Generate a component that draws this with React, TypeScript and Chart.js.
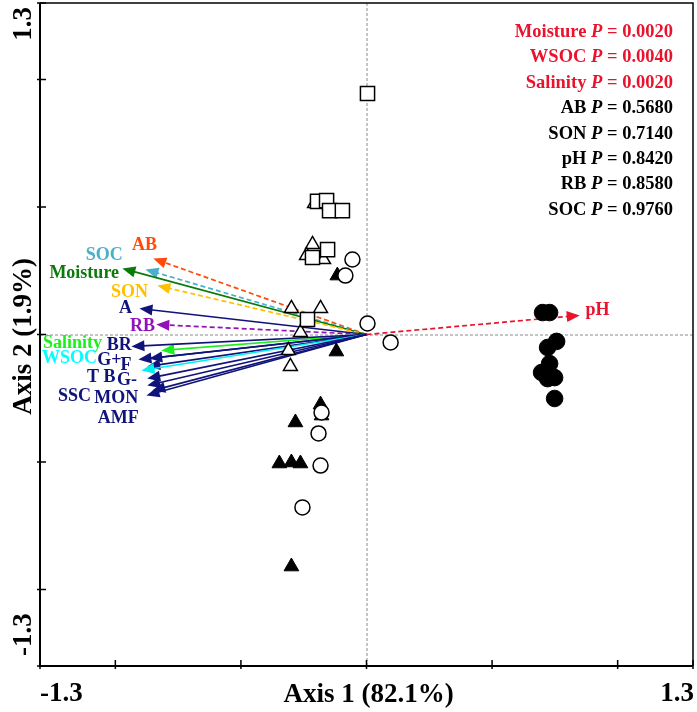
import { useEffect, useRef } from "react";
import { Chart, registerables } from "chart.js";

Chart.register(...registerables);

// ---- axes ----
const axisMin = -1.3;
const axisMax = 1.3;
const xTickValues = [-1.3, -1.0, -0.5, 0, 0.5, 1.0, 1.3];
const yTickValues = [-1.3, -1.0, -0.5, 0, 0.5, 1.0, 1.3];
const xTickLabels = ["-1.3", "1.3"];
const yTickLabels = ["-1.3", "1.3"];
const xAxisTitle = "Axis 1 (82.1%)";
const yAxisTitle = "Axis 2 (1.9%)";

// ---- sample scores ----
const openSquareX = [0.004, -0.195, -0.159, -0.147, -0.096, -0.215, -0.155, -0.235];
const openSquareY = [0.945, 0.522, 0.525, 0.486, 0.486, 0.302, 0.333, 0.059];

const openTriangleX = [-0.207, -0.215, -0.239, -0.171, -0.299, -0.183, -0.263, -0.311, -0.303];
const openTriangleY = [0.514, 0.353, 0.31, 0.294, 0.102, 0.102, 0.008, -0.063, -0.125];

const filledTriangleX = [-0.116, -0.12, -0.183, -0.179, -0.283, -0.347, -0.299, -0.263, -0.299];
const filledTriangleY = [0.231, -0.067, -0.275, -0.318, -0.345, -0.506, -0.502, -0.506, -0.91];

const openCircleX = [-0.056, -0.084, 0.004, 0.096, -0.179, -0.191, -0.183, -0.255];
const openCircleY = [0.294, 0.231, 0.043, -0.031, -0.306, -0.388, -0.514, -0.678];

const filledCircleX = [0.701, 0.729, 0.757, 0.721, 0.729, 0.697, 0.749, 0.721, 0.749];
const filledCircleY = [0.086, 0.086, -0.027, -0.051, -0.114, -0.149, -0.169, -0.173, -0.251];

// ---- environmental vectors ----
const vectorNames = ["AB", "SOC", "Moisture", "SON", "A", "RB", "Salinity", "BR", "G+", "F", "T B", "WSOC", "G-", "SSC", "AMF", "MON", "pH"];
const vectorX = [-0.849, -0.88, -0.972, -0.833, -0.904, -0.837, -0.817, -0.936, -0.908, -0.865, -0.873, -0.896, -0.873, -0.873, -0.853, -0.876, 0.849];
const vectorY = [0.298, 0.255, 0.259, 0.192, 0.102, 0.039, -0.063, -0.047, -0.098, -0.094, -0.125, -0.141, -0.173, -0.2, -0.22, -0.239, 0.075];
const vectorLabelX = [-0.884, -1.044, -1.124, -0.944, -0.96, -0.892, -1.171, -0.984, -1.024, -0.958, -1.056, -1.183, -0.954, -1.163, -0.988, -0.996, 0.92];
const vectorLabelY = [0.349, 0.31, 0.239, 0.165, 0.102, 0.031, -0.035, -0.043, -0.102, -0.122, -0.167, -0.094, -0.18, -0.243, -0.329, -0.251, 0.094];

// ---- significance ----
const testNames = ["Moisture", "WSOC", "Salinity", "AB", "SON", "pH", "RB", "SOC"];
const testP = ["0.0020", "0.0040", "0.0020", "0.5680", "0.7140", "0.8420", "0.8580", "0.9760"];

// ---- styles ----
const NAVY = "#10137a";
const RED = "#e8142e";
const vectorStyle: Record<string, { color: string; text: string; dashed: boolean }> = {
  AB: { color: "#ff4a0a", text: "#ff4a0a", dashed: true },
  SOC: { color: "#4aafc8", text: "#4aafc8", dashed: true },
  Moisture: { color: "#0b7a0b", text: "#0b7a0b", dashed: false },
  SON: { color: "#ffc000", text: "#ffc000", dashed: true },
  A: { color: NAVY, text: NAVY, dashed: false },
  RB: { color: "#9410b8", text: "#9410b8", dashed: true },
  Salinity: { color: "#1cf01c", text: "#1cf01c", dashed: false },
  BR: { color: NAVY, text: NAVY, dashed: false },
  "G+": { color: NAVY, text: NAVY, dashed: false },
  F: { color: NAVY, text: NAVY, dashed: false },
  "T B": { color: NAVY, text: NAVY, dashed: false },
  WSOC: { color: "#00f0f0", text: "#00ffff", dashed: false },
  "G-": { color: NAVY, text: NAVY, dashed: false },
  SSC: { color: NAVY, text: NAVY, dashed: false },
  AMF: { color: NAVY, text: NAVY, dashed: false },
  MON: { color: NAVY, text: NAVY, dashed: false },
  pH: { color: RED, text: RED, dashed: true },
};
const significantCount = 3;

const SERIF = "'Liberation Serif', 'Times New Roman', serif";

function pts(xs: number[], ys: number[]) {
  return xs.map((x, i) => ({ x, y: ys[i] }));
}

const ordinationPlugin = {
  id: "ordination",
  beforeDatasetsDraw(chart: any) {
    const { ctx, chartArea: a, scales } = chart;
    const xs = scales.x;
    const ys = scales.y;
    const ox = xs.getPixelForValue(0);
    const oy = ys.getPixelForValue(0);
    ctx.save();
    // zero reference lines
    ctx.strokeStyle = "#8a8a8a";
    ctx.lineWidth = 1;
    ctx.setLineDash([3, 2]);
    ctx.beginPath();
    ctx.moveTo(ox + 0.5, a.top);
    ctx.lineTo(ox + 0.5, a.bottom);
    ctx.moveTo(a.left, oy + 0.5);
    ctx.lineTo(a.right, oy + 0.5);
    ctx.stroke();
    // arrows
    vectorNames.forEach((name, i) => {
      const st = vectorStyle[name];
      const tx = xs.getPixelForValue(vectorX[i]);
      const ty = ys.getPixelForValue(vectorY[i]);
      const ang = Math.atan2(ty - oy, tx - ox);
      const L = 13;
      const W = 5.5;
      const bx = tx - L * Math.cos(ang);
      const by = ty - L * Math.sin(ang);
      ctx.strokeStyle = st.color;
      ctx.fillStyle = st.color;
      ctx.lineWidth = 1.7;
      ctx.setLineDash(st.dashed ? [5, 3] : []);
      ctx.beginPath();
      ctx.moveTo(ox, oy);
      ctx.lineTo(bx + 2 * Math.cos(ang), by + 2 * Math.sin(ang));
      ctx.stroke();
      ctx.setLineDash([]);
      ctx.beginPath();
      ctx.moveTo(tx, ty);
      ctx.lineTo(bx - W * Math.sin(ang), by + W * Math.cos(ang));
      ctx.lineTo(bx + W * Math.sin(ang), by - W * Math.cos(ang));
      ctx.closePath();
      ctx.fill();
    });
    ctx.restore();
  },
  afterDraw(chart: any) {
    const { ctx, chartArea: a, scales } = chart;
    const xs = scales.x;
    const ys = scales.y;
    ctx.save();
    // frame
    ctx.strokeStyle = "#000";
    ctx.lineWidth = 1.5;
    ctx.beginPath();
    ctx.moveTo(a.left, a.top);
    ctx.lineTo(a.right, a.top);
    ctx.lineTo(a.right, a.bottom);
    ctx.stroke();
    ctx.lineWidth = 2;
    ctx.beginPath();
    ctx.moveTo(a.left, a.top);
    ctx.lineTo(a.left, a.bottom);
    ctx.lineTo(a.right, a.bottom);
    ctx.stroke();
    // ticks
    ctx.lineWidth = 1.5;
    ctx.beginPath();
    xTickValues.forEach((v) => {
      const px = xs.getPixelForValue(v);
      ctx.moveTo(px, a.bottom + 3);
      ctx.lineTo(px, a.bottom - 6);
    });
    yTickValues.forEach((v) => {
      const py = ys.getPixelForValue(v);
      ctx.moveTo(a.left - 3, py);
      ctx.lineTo(a.left + 6, py);
    });
    ctx.stroke();
    // tick labels
    ctx.fillStyle = "#000";
    ctx.font = `bold 27px ${SERIF}`;
    ctx.textBaseline = "alphabetic";
    ctx.textAlign = "left";
    ctx.fillText(xTickLabels[0], a.left, 701);
    ctx.textAlign = "right";
    ctx.fillText(xTickLabels[1], a.right + 1, 701);
    ctx.textAlign = "center";
    ctx.fillText(xAxisTitle, (a.left + a.right) / 2 + 2, 702);
    // y labels (rotated)
    const yl = 31;
    ctx.save();
    ctx.translate(yl, a.bottom - 10);
    ctx.rotate(-Math.PI / 2);
    ctx.textAlign = "left";
    ctx.fillText(yTickLabels[0], 0, 0);
    ctx.restore();
    ctx.save();
    ctx.translate(yl, a.top + 4);
    ctx.rotate(-Math.PI / 2);
    ctx.textAlign = "right";
    ctx.fillText(yTickLabels[1], 0, 0);
    ctx.restore();
    ctx.save();
    ctx.translate(yl, ys.getPixelForValue(0) + 2);
    ctx.rotate(-Math.PI / 2);
    ctx.textAlign = "center";
    ctx.fillText(yAxisTitle, 0, 0);
    ctx.restore();
    // vector labels
    ctx.font = `bold 18px ${SERIF}`;
    ctx.textAlign = "center";
    ctx.textBaseline = "middle";
    vectorNames.forEach((name, i) => {
      ctx.fillStyle = vectorStyle[name].text;
      ctx.fillText(name, xs.getPixelForValue(vectorLabelX[i]), ys.getPixelForValue(vectorLabelY[i]));
    });
    // significance block
    const rightX = a.right - 20;
    ctx.textBaseline = "alphabetic";
    ctx.textAlign = "left";
    testNames.forEach((name, i) => {
      const yb = 37 + i * 25.4;
      ctx.fillStyle = i < significantCount ? RED : "#000";
      const boldF = `bold 18.5px ${SERIF}`;
      const italF = `italic bold 18.5px ${SERIF}`;
      const val = ` = ${testP[i]}`;
      ctx.font = boldF;
      const wVal = ctx.measureText(val).width;
      const wName = ctx.measureText(name + " ").width;
      ctx.font = italF;
      const wP = ctx.measureText("P").width;
      let x0 = rightX - wVal - wP - wName;
      ctx.font = boldF;
      ctx.fillText(name + " ", x0, yb);
      x0 += wName;
      ctx.font = italF;
      ctx.fillText("P", x0, yb);
      x0 += wP;
      ctx.font = boldF;
      ctx.fillText(val, x0, yb);
    });
    ctx.restore();
  },
};

export default function App() {
  const ref = useRef<HTMLCanvasElement | null>(null);
  useEffect(() => {
    if (!ref.current) return;
    const openStyle = { backgroundColor: "#ffffff", borderColor: "#000000", borderWidth: 1.5 };
    const chart = new Chart(ref.current, {
      type: "scatter",
      data: {
        datasets: [
          { label: "open square", data: pts(openSquareX, openSquareY), pointStyle: "rect", pointRadius: 10, ...openStyle },
          { label: "open triangle", data: pts(openTriangleX, openTriangleY), pointStyle: "triangle", pointRadius: 8, ...openStyle },
          { label: "open circle", data: pts(openCircleX, openCircleY), pointStyle: "circle", pointRadius: 7.5, ...openStyle },
          { label: "filled triangle", data: pts(filledTriangleX, filledTriangleY), pointStyle: "triangle", pointRadius: 8.5, backgroundColor: "#000", borderColor: "#000", borderWidth: 1 },
          { label: "filled circle", data: pts(filledCircleX, filledCircleY), pointStyle: "circle", pointRadius: 8.3, backgroundColor: "#000", borderColor: "#000", borderWidth: 1 },
        ],
      },
      options: {
        responsive: false,
        animation: false,
        layout: { autoPadding: false, padding: { left: 40, top: 3, right: 4, bottom: 46 } },
        plugins: { legend: { display: false }, tooltip: { enabled: false } },
        scales: {
          x: { type: "linear", min: axisMin, max: axisMax, display: false },
          y: { type: "linear", min: axisMin, max: axisMax, display: false },
        },
      },
      plugins: [ordinationPlugin],
    });
    return () => chart.destroy();
  }, []);
  return (
    <div style={{ position: "fixed", left: 0, top: 0, width: 697, height: 712, background: "#fff" }}>
      <canvas ref={ref} width={697} height={712} />
    </div>
  );
}
